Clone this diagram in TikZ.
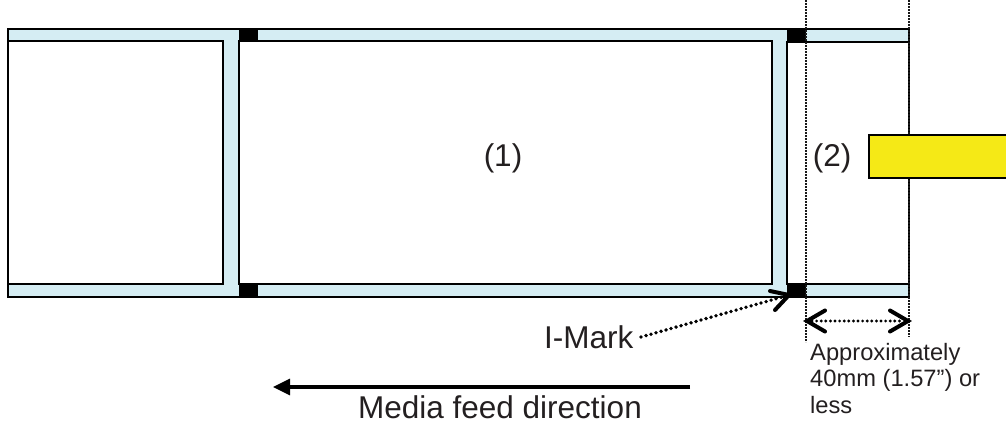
\documentclass[tikz,border=0pt]{standalone}
\usepackage{fontspec}
\setmainfont{Liberation Sans}
\usetikzlibrary{arrows.meta,calc}
\definecolor{liner}{HTML}{D5EDF3}
\definecolor{ylw}{HTML}{F5E916}
\definecolor{txt}{HTML}{231F20}
\tikzset{
  edge/.style={draw=black,line width=2.1pt},
  labelbox/.style={edge,fill=white},
  blackmark/.style={fill=black},
  guide/.style={draw=black!90,line width=1.2pt,dash pattern=on 2.2pt off 0.8pt},
  bigtext/.style={font=\fontsize{31.5}{36}\selectfont,text=txt,inner sep=0pt},
  smalltext/.style={font=\fontsize{23.7}{26.5}\selectfont,text=txt,inner sep=0pt,align=left},
  dotline/.style={line width=3.8pt,line cap=round,dash pattern=on 0pt off 5.2pt},
  chevron/.style={line width=4pt,line cap=round,line join=miter},
}
\begin{document}
\begin{tikzpicture}[x=1pt,y=-1pt]
\useasboundingbox (0,0) rectangle (1006,423);
% liner
\draw[edge,fill=liner] (8,29) rectangle (909,297);
% labels
\draw[labelbox] (8,41) rectangle (223,284);
\draw[labelbox] (239,41) rectangle (772,284);
\draw[labelbox] (787,42) rectangle (909,284);
% black marks
\fill[blackmark] (239,29) rectangle (258,41);
\fill[blackmark] (239,284) rectangle (258,297);
\fill[blackmark] (787,29) rectangle (806,42);
\fill[blackmark] (787,284) rectangle (806,297);
% guide lines
\draw[guide] (806,0) -- (806,342);
\draw[guide] (909,0) -- (909,337);
% yellow sensor
\draw[edge,fill=ylw] (869,135) rectangle (1012,178);
% texts
\node[bigtext] (t1) at (503,158) {(1)};
\node[bigtext] (t2) at (832,158) {(2)};
\node[bigtext,anchor=base west] (imark) at (544,348) {I-Mark};
\node[bigtext,anchor=base] (media) at (500,418) {Media feed direction};
\node[smalltext,anchor=north west] (approx) at (810,343) {Approximately\\40mm (1.57”) or\\less};
% connectors
\coordinate (imtail) at (641,337);
\coordinate (imhead) at (789,295);
\draw[dotline] (imtail) -- ($(imhead)+(-5,1.5)$);
\draw[chevron] (770,291) -- (imhead) -- (775,310);
\coordinate (d1) at (807,321);
\coordinate (d2) at (908,321);
\draw[dotline,line width=3.2pt,dash pattern=on 0pt off 4.6pt] ($(d1)+(5,0)$) -- ($(d2)+(-5,0)$);
\draw[chevron] (825,310.5) -- (d1) -- (825,331.5);
\draw[chevron] (890,310.5) -- (d2) -- (890,331.5);
\coordinate (fa) at (690,387);
\coordinate (fb) at (273,387);
\draw[line width=3.2pt,-{Triangle[length=17pt,width=16pt]}] (fa) -- (fb);
\end{tikzpicture}
\end{document}
